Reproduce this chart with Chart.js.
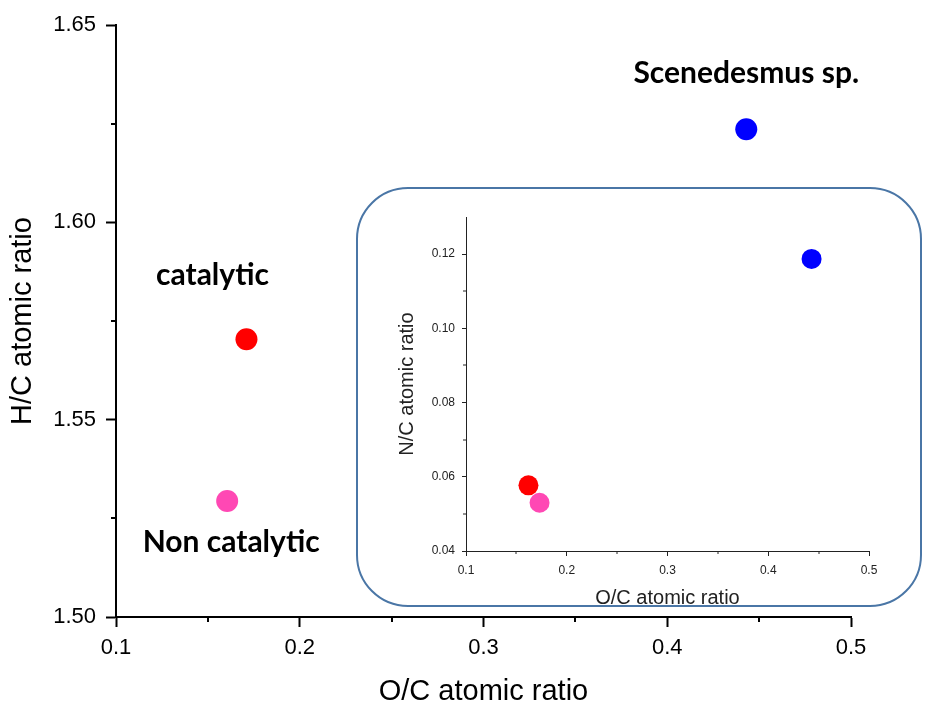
<!DOCTYPE html>
<html>
<head>
<meta charset="utf-8">
<script src="https://cdn.jsdelivr.net/npm/chart.js@4/dist/chart.umd.min.js"></script>
<style>
  body { margin: 0; background: #fff; }
  #wrap { position: relative; width: 925px; height: 706px; }
  #main { position: absolute; left: 0; top: 0; }
  #box { position: absolute; left: 356px; top: 187px; width: 562px; height: 416px;
         border: 2px solid #4a76a6; border-radius: 52px; background: #fff; }
  #inset { position: absolute; left: 370px; top: 195px; }
</style>
</head>
<body>
<div id="wrap">
  <canvas id="main" width="925" height="706"></canvas>
  <div id="box"></div>
  <canvas id="inset" width="540" height="420"></canvas>
</div>
<script>
const samples = ["catalytic", "Non catalytic", "Scenedesmus sp."];
const sampleColors = ["#ff0000", "#ff48b4", "#0000ff"];

// main plot: H/C vs O/C
const ocRatio = [0.171, 0.1605, 0.443];
const hcRatio = [1.5704, 1.5294, 1.6236];

// inset: N/C vs O/C
const ocRatioInset = [0.162, 0.173, 0.443];
const ncRatio = [0.0577, 0.0530, 0.1187];

const mainXTicks = [0.1, 0.2, 0.3, 0.4, 0.5];
const mainXMinor = [0.15, 0.25, 0.35, 0.45];
const mainYTicks = [1.50, 1.55, 1.60, 1.65];
const mainYMinor = [1.525, 1.575, 1.625];
const insetXTicks = [0.1, 0.2, 0.3, 0.4, 0.5];
const insetXMinor = [0.15, 0.25, 0.35, 0.45];
const insetYTicks = [0.04, 0.06, 0.08, 0.10, 0.12];
const insetYMinor = [0.05, 0.07, 0.09, 0.11];

// label offsets from each main point (px)
const labelOffsets = [[-34, -64], [4, 41], [0, -56]];

const minorTicks = {
  id: "minorTicks",
  afterDraw(chart, args, opts) {
    const ctx = chart.ctx;
    const { x, y } = chart.scales;
    ctx.save();
    ctx.strokeStyle = opts.color;
    ctx.lineWidth = opts.width;
    ctx.beginPath();
    opts.x.forEach(v => {
      const px = Math.round(x.getPixelForValue(v));
      ctx.moveTo(px, x.top);
      ctx.lineTo(px, x.top + opts.len);
    });
    opts.y.forEach(v => {
      const py = Math.round(y.getPixelForValue(v));
      ctx.moveTo(y.right, py);
      ctx.lineTo(y.right - opts.len, py);
    });
    ctx.stroke();
    ctx.restore();
  }
};

const pointLabels = {
  id: "pointLabels",
  afterDatasetsDraw(chart) {
    const ctx = chart.ctx;
    ctx.save();
    ctx.font = "bold 30px Lato";
    ctx.fillStyle = "#000";
    ctx.textAlign = "center";
    ctx.textBaseline = "middle";
    chart.data.datasets.forEach((ds, i) => {
      const pt = chart.getDatasetMeta(i).data[0];
      ctx.fillText(ds.label, pt.x + labelOffsets[i][0], pt.y + labelOffsets[i][1]);
    });
    ctx.restore();
  }
};

function makeSets(xs, ys, r) {
  return samples.map((name, i) => ({
    label: name,
    data: [{ x: xs[i], y: ys[i] }],
    backgroundColor: sampleColors[i],
    borderWidth: 0,
    pointRadius: r,
    pointHoverRadius: r
  }));
}

function axis(o) {
  return {
    type: "linear",
    min: o.min,
    max: o.max,
    afterBuildTicks: s => { s.ticks = o.ticks.map(v => ({ value: v })); },
    afterFit: s => { if (o.w) s.width = o.w; if (o.h) s.height = o.h; },
    ticks: {
      callback: v => v.toFixed(o.dec),
      color: o.color,
      font: { family: "'Liberation Sans', Arial", size: o.tickSize },
      padding: o.pad,
      maxRotation: 0,
      autoSkip: false
    },
    grid: { drawOnChartArea: false, tickLength: o.tickLen, tickColor: o.color, tickWidth: o.lw },
    border: { color: o.color, width: o.lw },
    title: {
      display: true,
      text: o.title,
      color: o.color,
      font: { family: "'Liberation Sans', Arial", size: o.titleSize, lineHeight: 1 },
      padding: o.titlePad
    }
  };
}

new Chart(document.getElementById("main"), {
  type: "scatter",
  data: { datasets: makeSets(ocRatio, hcRatio, 11) },
  options: {
    responsive: false,
    animation: false,
    layout: { padding: { left: 0, top: 25, right: 74, bottom: 0 } },
    plugins: {
      legend: { display: false },
      tooltip: { enabled: false },
      minorTicks: { x: mainXMinor, y: mainYMinor, len: 5, width: 2, color: "#000" }
    },
    scales: {
      x: axis({ min: 0.1, max: 0.5, ticks: mainXTicks, dec: 1, h: 89, color: "#000", tickSize: 22,
                pad: 8, tickLen: 10, lw: 2, title: "O/C atomic ratio", titleSize: 29,
                titlePad: { top: 0, bottom: 0 } }),
      y: axis({ min: 1.50, max: 1.65, ticks: mainYTicks, dec: 2, w: 116, color: "#000", tickSize: 22,
                pad: 10, tickLen: 10, lw: 2, title: "H/C atomic ratio", titleSize: 29,
                titlePad: { top: 8, bottom: 0 } })
    }
  },
  plugins: [minorTicks, pointLabels]
});

new Chart(document.getElementById("inset"), {
  type: "scatter",
  data: { datasets: makeSets(ocRatioInset, ncRatio, 10) },
  options: {
    responsive: false,
    animation: false,
    layout: { padding: { left: 0, top: 22, right: 41, bottom: 0 } },
    plugins: {
      legend: { display: false },
      tooltip: { enabled: false },
      minorTicks: { x: insetXMinor, y: insetYMinor, len: 3, width: 1, color: "#222" }
    },
    scales: {
      x: axis({ min: 0.1, max: 0.5, ticks: insetXTicks, dec: 1, h: 64, color: "#222", tickSize: 12,
                pad: 7, tickLen: 5, lw: 1, title: "O/C atomic ratio", titleSize: 20,
                titlePad: { top: 0, bottom: 7 } }),
      y: axis({ min: 0.04, max: 0.13, ticks: insetYTicks, dec: 2, w: 96, color: "#222", tickSize: 12,
                pad: 7, tickLen: 4, lw: 1, title: "N/C atomic ratio", titleSize: 20,
                titlePad: { top: 27, bottom: 0 } })
    }
  },
  plugins: [minorTicks]
});
</script>
</body>
</html>
